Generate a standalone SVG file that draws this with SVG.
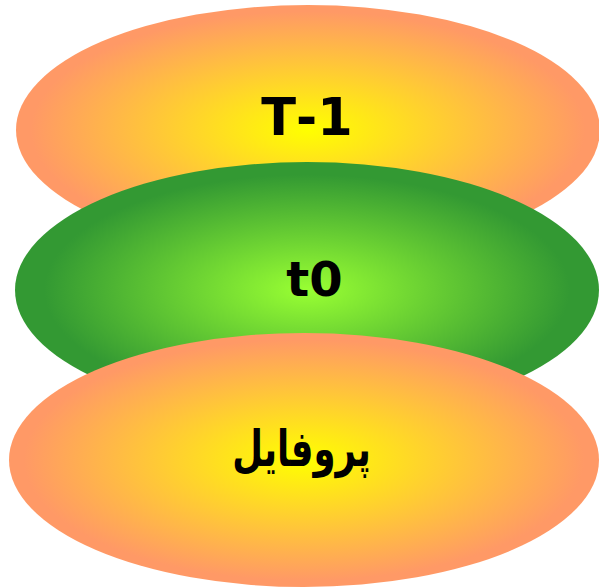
<svg xmlns="http://www.w3.org/2000/svg" width="599" height="587" viewBox="0 0 599 587">
<defs>
<radialGradient id="gOrange" cx="0.5" cy="0.5" r="0.5">
<stop offset="0" stop-color="#ffff00"/>
<stop offset="0.95" stop-color="#ff9966"/>
<stop offset="1" stop-color="#ff9966"/>
</radialGradient>
<radialGradient id="gGreen" cx="0.5" cy="0.5" r="0.5">
<stop offset="0" stop-color="#99ff33"/>
<stop offset="0.9" stop-color="#339933"/>
<stop offset="1" stop-color="#339933"/>
</radialGradient>
</defs>
<style>
.lbl{font-family:'DejaVu Sans',Verdana,sans-serif;font-weight:bold;fill:#000;text-anchor:middle;font-kerning:none}
.fa{font-family:'DejaVu Sans',sans-serif;font-weight:bold;font-size:46px;fill:#000;text-anchor:middle}
</style>
<g id="node-t-1">
<ellipse cx="308" cy="130" rx="292" ry="125" fill="url(#gOrange)"/>
<text class="lbl" x="307" y="135" font-size="51">T-1</text>
</g>
<g id="node-t0">
<ellipse cx="307" cy="290" rx="292" ry="128" fill="url(#gGreen)"/>
<text class="lbl" x="314.5" y="296" font-size="48">t0</text>
</g>
<g id="node-profile">
<ellipse cx="304" cy="460" rx="295" ry="127" fill="url(#gOrange)"/>
<g transform="translate(301.5,466) scale(0.77,1.08)">
<text class="fa" x="0" y="0" direction="rtl">پروفایل</text>
</g>
</g>
<g id="connectors"/>
</svg>
